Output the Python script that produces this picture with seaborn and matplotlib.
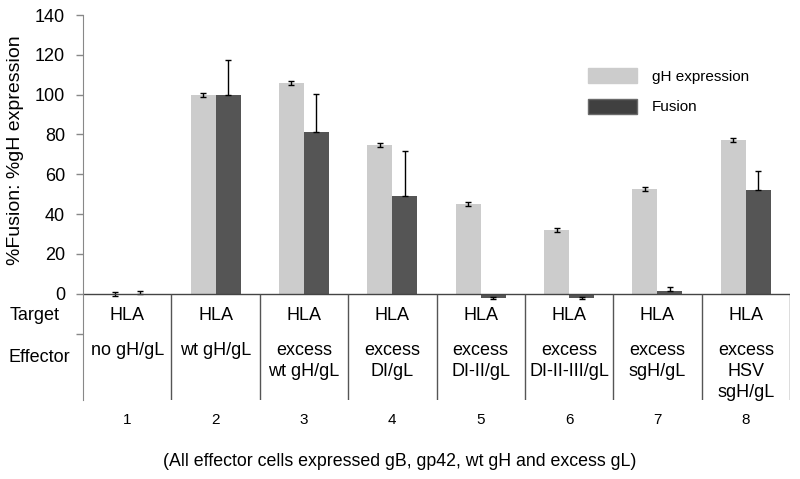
import matplotlib
matplotlib.use('Agg')
import matplotlib.pyplot as plt
import numpy as np
import pandas as pd
import seaborn as sns
from matplotlib.patches import Patch

# values
lanes = ['1', '2', '3', '4', '5', '6', '7', '8']
targets = ['HLA'] * 8
effectors = ['no gH/gL', 'wt gH/gL', 'excess\nwt gH/gL', 'excess\nDI/gL',
             'excess\nDI-II/gL', 'excess\nDI-II-III/gL', 'excess\nsgH/gL',
             'excess\nHSV\nsgH/gL']
gh_expr = [0, 100, 106, 74.5, 45, 32, 52.5, 77]
gh_err = [1.0, 1.0, 1.0, 1.0, 1.0, 1.0, 1.0, 1.0]
fusion = [0, 100, 81, 49, -2.3, -2.0, 1.2, 52.3]
fusion_err = [1.5, 17.5, 19.5, 22.5, 0.5, 0.5, 2.4, 9.5]
series = ['gH expression', 'Fusion']
colors = ['#cccccc', '#555555']
caption = '(All effector cells expressed gB, gp42, wt gH and excess gL)'

df = pd.DataFrame({
    'lane': lanes * 2,
    'value': gh_expr + fusion,
    'series': [series[0]] * 8 + [series[1]] * 8,
})

plt.rcParams['font.family'] = ['Liberation Sans', 'DejaVu Sans']
fig = plt.figure(figsize=(8, 4.79), dpi=100)
ax = fig.add_axes([83 / 800, 1 - 400 / 479, 707 / 800, 385 / 479])

sns.barplot(data=df, x='lane', y='value', hue='series', hue_order=series,
            palette=colors, width=0.566, gap=0, errorbar=None, saturation=1,
            legend=False, ax=ax)

# error bars at the bar centres
for cont, err, vals, up_only in zip(ax.containers, [gh_err, fusion_err],
                                    [gh_expr, fusion], [False, True]):
    xs = [b.get_x() + b.get_width() / 2 for b in cont]
    lower = [0 if up_only and v >= 0 else e for v, e in zip(vals, err)]
    ax.errorbar(xs, vals, yerr=[lower, err], fmt='none', ecolor='black',
                elinewidth=1, capsize=2.5, capthick=1)

ymin = -53.4
ax.set_ylim(ymin, 140)
ax.set_xlim(-0.5, 7.5)
ax.set_yticks([-20, 0, 20, 40, 60, 80, 100, 120, 140])
ax.set_yticklabels(['', '0', '20', '40', '60', '80', '100', '120', '140'], fontsize=13)
ax.tick_params(axis='y', length=5, color='#888888', width=1, pad=8)
ax.set_xticks([])
ax.set_xlabel('')
ax.set_ylabel('%Fusion: %gH expression', fontsize=14)
ax.yaxis.set_label_coords(-0.083, 0.65)

for s in ['top', 'right', 'bottom']:
    ax.spines[s].set_visible(False)
ax.spines['left'].set_color('#888888')
ax.spines['left'].set_bounds(ymin, 140)

# table below the zero line
ax.axhline(0, color='#444444', lw=1)
ax.vlines(np.arange(0.5, 8.5, 1), ymin, 0, color='#555555', lw=1)
for i in range(8):
    ax.text(i, -11, targets[i], ha='center', va='center', fontsize=13)
    ax.text(i, -24.5, effectors[i], ha='center', va='top', fontsize=13,
            linespacing=1.3)
    ax.text(i, -63.4, lanes[i], ha='center', va='center', fontsize=11,
            clip_on=False)
fig.text(10 / 800, 1 - 315 / 479, 'Target', ha='left', va='center', fontsize=13)
fig.text(8 / 800, 1 - 357 / 479, 'Effector', ha='left', va='center', fontsize=13)
fig.text(400 / 800, 1 - 462 / 479, caption, ha='center', va='center', fontsize=12.8)

handles = [Patch(facecolor=colors[0], edgecolor=colors[0]),
           Patch(facecolor='#404040', edgecolor='#6a6a6a')]
ax.legend(handles, series, loc='upper left', bbox_to_anchor=(0.714, 0.862),
          frameon=False, fontsize=11, handlelength=3.2, handleheight=1.1,
          labelspacing=1.0, handletextpad=1.0, borderpad=0, borderaxespad=0)

fig.savefig('out.png', dpi=100)
